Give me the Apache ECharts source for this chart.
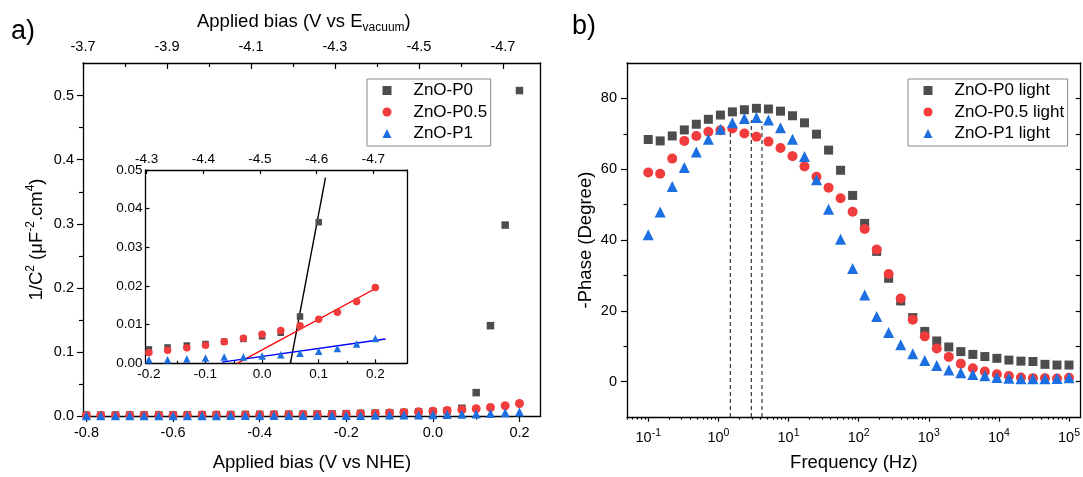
<!DOCTYPE html>
<html><head><meta charset="utf-8">
<script src="https://cdn.jsdelivr.net/npm/echarts@6/dist/echarts.min.js"></script>
<style>html,body{margin:0;padding:0;background:#fff}#c{width:1083px;height:477px}</style>
</head><body><div id="c"></div>
<script>
// ---------- Panel a data ----------
const biasNHE = [-0.8,-0.767,-0.733,-0.7,-0.667,-0.633,-0.6,-0.567,-0.533,-0.5,-0.467,-0.433,-0.4,-0.367,-0.333,-0.3,-0.267,-0.233,-0.2,-0.167,-0.133,-0.1,-0.067,-0.033,0,0.033,0.067,0.1,0.133,0.167,0.2];
const invC2_P0  = [0.0012,0.0013,0.0014,0.0015,0.0016,0.0017,0.0018,0.0019,0.0020,0.0021,0.0022,0.0024,0.0025,0.0026,0.0028,0.0029,0.0031,0.0033,0.0036,0.0041,0.0046,0.0050,0.0056,0.0063,0.0070,0.0079,0.0121,0.0365,0.141,0.298,0.508];
const invC2_P05 = [0.0008,0.0009,0.0009,0.0010,0.0011,0.0011,0.0012,0.0013,0.0014,0.0015,0.0016,0.0017,0.0018,0.0019,0.0020,0.0022,0.0023,0.0025,0.0028,0.0034,0.0040,0.0047,0.0056,0.0065,0.0075,0.0085,0.0097,0.0114,0.0132,0.0160,0.0196];
const invC2_P1  = [0.0003,0.0003,0.0003,0.0004,0.0004,0.0004,0.0005,0.0005,0.0005,0.0005,0.0006,0.0006,0.0006,0.0007,0.0007,0.0007,0.0008,0.0008,0.0009,0.0009,0.0011,0.0014,0.0016,0.0016,0.0019,0.0022,0.0026,0.0031,0.0038,0.0050,0.0064];
// Mott-Schottky fit lines (inset), endpoints
const fitP0X  = [0.05, 0.112];   const fitP0Y  = [0, 0.048];
const fitP05X = [-0.044, 0.206]; const fitP05Y = [0, 0.0198];
const fitP1X  = [-0.071, 0.218]; const fitP1Y  = [0.0003, 0.0063];
// ---------- Panel b data ----------
const freqHz = [0.1,0.148,0.22,0.327,0.485,0.72,1.07,1.585,2.35,3.49,5.18,7.69,11.4,16.9,25.1,37.3,55.3,82.1,122,181,268,398,591,877,1301,1931,2865,4252,6310,9363,13895,20619,30598,45406,67380,100000];
const phaseP0  = [68.4,68.0,69.4,71.1,72.7,74.1,75.3,76.2,76.8,77.2,77.0,76.4,75.1,73.1,69.9,65.4,59.7,52.6,44.7,36.8,29.2,22.8,18.1,14.2,11.5,9.8,8.5,7.7,7.1,6.6,6.1,5.8,5.7,4.9,4.7,4.7];
const phaseP05 = [59.1,58.7,63.0,68.0,69.4,70.6,71.0,71.5,70.1,69.2,67.8,66.0,63.7,60.8,57.9,54.8,51.8,48.0,43.1,37.3,30.4,23.5,17.5,12.8,9.4,7.0,5.1,3.8,2.9,2.1,1.6,1.2,1.0,1.0,0.9,1.1];
const phaseP1  = [41.5,47.9,55.1,60.5,64.9,68.5,71.3,73.1,74.3,74.6,73.9,71.7,68.5,63.6,57.0,48.7,40.2,32.0,24.5,18.4,13.9,10.4,7.9,6.0,4.6,3.3,2.5,2.0,1.7,1.2,1.0,0.8,0.8,0.8,0.9,1.1];
const peakFreq  = [1.48, 2.95, 4.19];
const peakPhase = [71.0, 73.8, 73.5];
// ---------- Tick values ----------
const aBottomTicks = [-0.8,-0.6,-0.4,-0.2,0,0.2];
const aBottomMinor = [-0.7,-0.5,-0.3,-0.1,0.1];
const aTopTicks = [-3.7,-3.9,-4.1,-4.3,-4.5,-4.7];
const aTopMinor = [-3.8,-4.0,-4.2,-4.4,-4.6];
const aLeftTicks = [0,0.1,0.2,0.3,0.4,0.5];
const aLeftMinor = [0.05,0.15,0.25,0.35,0.45];
const insBottomTicks = [-0.2,-0.1,0,0.1,0.2];
const insBottomMinor = [-0.15,-0.05,0.05,0.15];
const insTopTicks = [-4.3,-4.4,-4.5,-4.6,-4.7];
const insLeftTicks = [0,0.01,0.02,0.03,0.04,0.05];
const bLeftTicks = [0,20,40,60,80];
const bLeftMinor = [10,30,50,70];
const bRightTicks = [0,10,20,30,40,50,60,70,80];
const bBottomTicks = [0.1,1,10,100,1000,10000,100000];
const bBottomMinor = [];
for (let d = -2; d <= 4; d++) for (let m = 2; m <= 9; m++) bBottomMinor.push(+(m * Math.pow(10, d)).toPrecision(3));

const C_P0 = '#4d4d4d', C_P05 = '#f03c3c', C_P1 = '#1c6fe0';
const FF = 'Liberation Sans, Arial, sans-serif';

function merge(a, b) {
  const o = Object.assign({}, a);
  for (const k in b) {
    if (b[k] && typeof b[k] === 'object' && !Array.isArray(b[k]) && o[k] && typeof o[k] === 'object') o[k] = merge(o[k], b[k]);
    else o[k] = b[k];
  }
  return o;
}
const baseAxis = {
  type: 'value', splitLine: {show: false}, axisPointer: {show: false},
  axisLine: {show: true, onZero: false, lineStyle: {color: '#000', width: 1.3}},
  axisTick: {show: true, inside: false, length: 6, lineStyle: {color: '#000', width: 1.2}},
  axisLabel: {show: true, color: '#000', fontSize: 14.5, fontFamily: FF},
  nameTextStyle: {color: '#000', fontSize: 18.5, fontFamily: FF}
};
function ax(o) { return merge(baseAxis, o); }
function minorAx(o) { return merge(baseAxis, merge({axisLine: {show: false}, axisLabel: {show: false}, axisTick: {length: 3.5}}, o)); }
function lineAx(o) { return merge(baseAxis, merge({axisTick: {show: false}, axisLabel: {show: false}}, o)); }

const f1 = v => (+v).toFixed(1);
const f2 = v => (+v).toFixed(2);
const expLbl = v => '10{sup|' + Math.round(Math.log10(v)) + '}';

// ranges
const A_X = [-0.808, 0.249], A_TOP = [-4.79, -3.7], A_Y = [0, 0.551];
const I_X = [-0.206, 0.256], I_TOP = [-4.7595, -4.298], I_Y = [0, 0.05];
const B_X = [0.0498, 146700], B_Y = [-10, 90];

const xAxis = [
  ax({gridIndex: 0, position: 'bottom', min: A_X[0], max: A_X[1],
      axisTick: {customValues: aBottomTicks}, axisLabel: {customValues: aBottomTicks, formatter: f1, margin: 9},
      name: 'Applied bias (V vs NHE)', nameLocation: 'middle', nameGap: 37}),
  minorAx({gridIndex: 0, position: 'bottom', min: A_X[0], max: A_X[1], axisTick: {customValues: aBottomMinor}}),
  ax({gridIndex: 0, position: 'top', inverse: true, min: A_TOP[0], max: A_TOP[1],
      axisTick: {inside: true, customValues: aTopTicks}, axisLabel: {customValues: aTopTicks, formatter: f1, margin: 9},
      name: 'Applied bias (V vs E{sub|vacuum})', nameLocation: 'middle', nameGap: 29,
      nameTextStyle: {lineHeight: 24, padding: [0, 16, 0, 0], rich: {sub: {fontSize: 12, lineHeight: 12, verticalAlign: 'bottom', fontFamily: FF, color: '#000'}}}}),
  minorAx({gridIndex: 0, position: 'top', inverse: true, min: A_TOP[0], max: A_TOP[1], axisTick: {inside: true, length: 4, customValues: aTopMinor}}),
  ax({gridIndex: 1, position: 'bottom', min: I_X[0], max: I_X[1],
      axisTick: {inside: true, length: 4, customValues: insBottomTicks}, axisLabel: {customValues: insBottomTicks, formatter: f1, margin: 4, fontSize: 13.5}}),
  minorAx({gridIndex: 1, position: 'bottom', min: I_X[0], max: I_X[1], axisTick: {inside: true, length: 2.5, customValues: insBottomMinor}}),
  ax({gridIndex: 1, position: 'top', inverse: true, min: I_TOP[0], max: I_TOP[1],
      axisTick: {inside: true, length: 4, customValues: insTopTicks}, axisLabel: {customValues: insTopTicks, formatter: f1, margin: 4, fontSize: 13.5}}),
  ax({gridIndex: 2, type: 'log', logBase: 10, position: 'bottom', min: B_X[0], max: B_X[1],
      axisTick: {length: 4.5, customValues: bBottomTicks},
      axisLabel: {customValues: bBottomTicks, formatter: expLbl, margin: 11, lineHeight: 20,
                  rich: {sup: {fontSize: 10.5, lineHeight: 13, verticalAlign: 'top', fontFamily: FF, color: '#000'}}},
      name: 'Frequency (Hz)', nameLocation: 'middle', nameGap: 31}),
  minorAx({gridIndex: 2, type: 'log', logBase: 10, position: 'bottom', min: B_X[0], max: B_X[1], axisTick: {length: 2.5, customValues: bBottomMinor}}),
  lineAx({gridIndex: 2, type: 'log', logBase: 10, position: 'top', min: B_X[0], max: B_X[1]})
];

const yAxis = [
  ax({gridIndex: 0, position: 'left', min: A_Y[0], max: A_Y[1],
      axisTick: {customValues: aLeftTicks}, axisLabel: {customValues: aLeftTicks, formatter: f1, margin: 9},
      name: '1/C{sup|2} (\u03bcF{sup|-2}.cm{sup|4})', nameLocation: 'middle', nameGap: 34,
      nameTextStyle: {lineHeight: 24, rich: {sup: {fontSize: 12, lineHeight: 15, verticalAlign: 'top', fontFamily: FF, color: '#000'}}}}),
  minorAx({gridIndex: 0, position: 'left', min: A_Y[0], max: A_Y[1], axisTick: {length: 4, customValues: aLeftMinor}}),
  lineAx({gridIndex: 0, position: 'right', min: A_Y[0], max: A_Y[1]}),
  ax({gridIndex: 1, position: 'left', min: I_Y[0], max: I_Y[1],
      axisTick: {inside: true, length: 4, customValues: insLeftTicks}, axisLabel: {customValues: insLeftTicks, formatter: f2, margin: 3, fontSize: 13.5}}),
  lineAx({gridIndex: 1, position: 'right', min: I_Y[0], max: I_Y[1]}),
  ax({gridIndex: 2, position: 'left', min: B_Y[0], max: B_Y[1],
      axisTick: {customValues: bLeftTicks}, axisLabel: {customValues: bLeftTicks, margin: 10},
      name: '-Phase (Degree)', nameLocation: 'middle', nameGap: 24, nameTextStyle: {lineHeight: 22}}),
  minorAx({gridIndex: 2, position: 'left', min: B_Y[0], max: B_Y[1], axisTick: {length: 3.5, customValues: bLeftMinor}}),
  ax({gridIndex: 2, position: 'right', min: B_Y[0], max: B_Y[1],
      axisTick: {inside: true, length: 5, customValues: bRightTicks}, axisLabel: {show: false}})
];

const zip = (xs, ys) => xs.map((x, i) => [x, ys[i]]);
function sc(name, xi, yi, xs, ys, sym, size, color) {
  return {type: 'scatter', name, xAxisIndex: xi, yAxisIndex: yi, data: zip(xs, ys),
          symbol: sym, symbolSize: size, itemStyle: {color, opacity: 1}, clip: true, silent: true};
}
function ln(xi, yi, xs, ys, color, dashed) {
  return {type: 'line', xAxisIndex: xi, yAxisIndex: yi, data: zip(xs, ys), symbol: 'none', clip: true, silent: true,
          lineStyle: {color, width: dashed ? 1.1 : 1.4, type: dashed ? [4, 3] : 'solid'}, z: 1};
}

const series = [
  // panel a main
  sc('ZnO-P0', 0, 0, biasNHE, invC2_P0, 'rect', 7.5, C_P0),
  sc('ZnO-P0.5', 0, 0, biasNHE, invC2_P05, 'circle', 9, C_P05),
  sc('ZnO-P1', 0, 0, biasNHE, invC2_P1, 'triangle', 9, C_P1),
  // inset
  ln(4, 3, fitP0X, fitP0Y, '#000', false),
  ln(4, 3, fitP05X, fitP05Y, '#ff0000', false),
  ln(4, 3, fitP1X, fitP1Y, '#0000ff', false),
  sc('ZnO-P0', 4, 3, biasNHE, invC2_P0, 'rect', 6.5, C_P0),
  sc('ZnO-P0.5', 4, 3, biasNHE, invC2_P05, 'circle', 7.5, C_P05),
  sc('ZnO-P1', 4, 3, biasNHE, invC2_P1, 'triangle', 7.5, C_P1),
  // panel b peak markers
  ...peakFreq.map((f, i) => ln(7, 5, [f, f], [B_Y[0], peakPhase[i]], '#222', true)),
  sc('ZnO-P0 light', 7, 5, freqHz, phaseP0, 'rect', 9, C_P0),
  sc('ZnO-P0.5 light', 7, 5, freqHz, phaseP05, 'circle', 10, C_P05),
  sc('ZnO-P1 light', 7, 5, freqHz, phaseP1, 'triangle', 11, C_P1)
];

const legendBase = {
  orient: 'vertical', itemWidth: 9, itemHeight: 9, itemGap: 4.5, symbolKeepAspect: true,
  borderColor: '#8a8a8a', borderWidth: 1, borderRadius: 0, backgroundColor: '#fff',
  textStyle: {fontSize: 17, lineHeight: 17, color: '#000', fontFamily: FF, padding: [0, 0, 0, 17]},
  selectedMode: false
};

const option = {
  animation: false,
  textStyle: {fontFamily: FF, color: '#000'},
  title: [
    {text: 'a)', left: 11, top: 18, padding: 0, textStyle: {fontSize: 27, fontWeight: 'normal', color: '#000', fontFamily: FF}},
    {text: 'b)', left: 572, top: 13, padding: 0, textStyle: {fontSize: 27, fontWeight: 'normal', color: '#000', fontFamily: FF}}
  ],
  grid: [
    {left: 83, top: 63, width: 457.7, height: 356.3},
    {left: 145.5, top: 170, width: 261.5, height: 193.3},
    {left: 627, top: 63, width: 454.7, height: 356}
  ],
  legend: [
    merge(legendBase, {left: 367, top: 79, padding: [3, 3.5, 4, 15.5], data: ['ZnO-P0', 'ZnO-P0.5', 'ZnO-P1']}),
    merge(legendBase, {left: 908, top: 79, padding: [3, 3.5, 4, 15.5], data: ['ZnO-P0 light', 'ZnO-P0.5 light', 'ZnO-P1 light']})
  ],
  xAxis, yAxis, series
};

const chart = echarts.init(document.getElementById('c'), null, {renderer: 'canvas'});
chart.setOption(option);
</script>
</body></html>
